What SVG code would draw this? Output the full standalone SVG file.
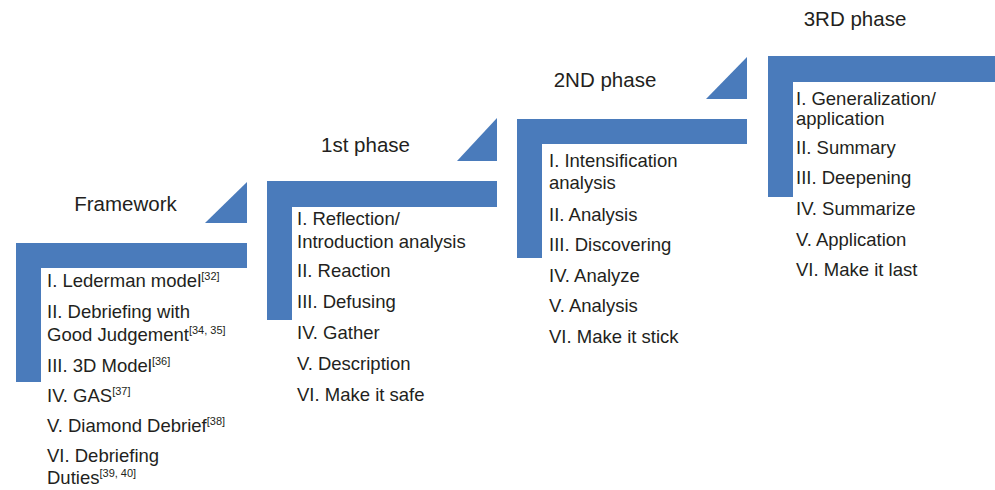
<svg xmlns="http://www.w3.org/2000/svg" width="995" height="490" viewBox="0 0 995 490">
  <style>
    .bar { fill: #4a7bbb; }
    .head { font-family: "Liberation Sans", Arial, sans-serif; font-size: 20.5px; fill: #231f20; text-anchor: middle; }
    .item { font-family: "Liberation Sans", Arial, sans-serif; font-size: 18.5px; fill: #231f20; }
    .sup { font-size: 11px; }
  </style>
  <rect width="995" height="490" fill="#ffffff"/>

  <!-- Step 0: Framework -->
  <g id="framework">
    <path class="bar" d="M16,243 H247 V268 H41 V382 H16 Z"/>
    <polygon class="bar" points="205,223 247,223 247,182"/>
    <text class="head" x="125.5" y="211">Framework</text>
    <text class="item" x="47" y="287">I. Lederman model<tspan class="sup" dy="-7">[32]</tspan></text>
    <text class="item" x="47" y="318">II. Debriefing with</text>
    <text class="item" x="47" y="341">Good Judgement<tspan class="sup" dy="-7">[34, 35]</tspan></text>
    <text class="item" x="47" y="372">III. 3D Model<tspan class="sup" dy="-7">[36]</tspan></text>
    <text class="item" x="47" y="402">IV. GAS<tspan class="sup" dy="-7">[37]</tspan></text>
    <text class="item" x="47" y="432">V. Diamond Debrief<tspan class="sup" dy="-7">[38]</tspan></text>
    <text class="item" x="47" y="462">VI. Debriefing</text>
    <text class="item" x="47" y="484">Duties<tspan class="sup" dy="-7">[39, 40]</tspan></text>
  </g>

  <!-- Step 1 -->
  <g id="phase1">
    <path class="bar" d="M267,181 H497 V207 H292 V320 H267 Z"/>
    <polygon class="bar" points="457,161 497,161 497,118"/>
    <text class="head" x="365.5" y="152">1st phase</text>
    <text class="item" x="297" y="225">I. Reflection/</text>
    <text class="item" x="297" y="248">Introduction analysis</text>
    <text class="item" x="297" y="277">II. Reaction</text>
    <text class="item" x="297" y="308">III. Defusing</text>
    <text class="item" x="297" y="339">IV. Gather</text>
    <text class="item" x="297" y="370">V. Description</text>
    <text class="item" x="297" y="401">VI. Make it safe</text>
  </g>

  <!-- Step 2 -->
  <g id="phase2">
    <path class="bar" d="M517,119 H747 V144 H542 V258 H517 Z"/>
    <polygon class="bar" points="706,99 747,99 747,57"/>
    <text class="head" x="605" y="87">2ND phase</text>
    <text class="item" x="549" y="167">I. Intensification</text>
    <text class="item" x="549" y="189">analysis</text>
    <text class="item" x="549" y="221">II. Analysis</text>
    <text class="item" x="549" y="251">III. Discovering</text>
    <text class="item" x="549" y="282">IV. Analyze</text>
    <text class="item" x="549" y="312">V. Analysis</text>
    <text class="item" x="549" y="343">VI. Make it stick</text>
  </g>

  <!-- Step 3 -->
  <g id="phase3">
    <path class="bar" d="M768,56 H995 V82 H793 V197 H768 Z"/>
    <text class="head" x="855" y="26">3RD phase</text>
    <text class="item" x="796" y="105">I. Generalization/</text>
    <text class="item" x="796" y="125">application</text>
    <text class="item" x="796" y="154">II. Summary</text>
    <text class="item" x="796" y="184">III. Deepening</text>
    <text class="item" x="796" y="215">IV. Summarize</text>
    <text class="item" x="796" y="246">V. Application</text>
    <text class="item" x="796" y="276">VI. Make it last</text>
  </g>

  <!-- no connectors: the steps are joined only by layout -->
  <g id="connectors"/>
</svg>
